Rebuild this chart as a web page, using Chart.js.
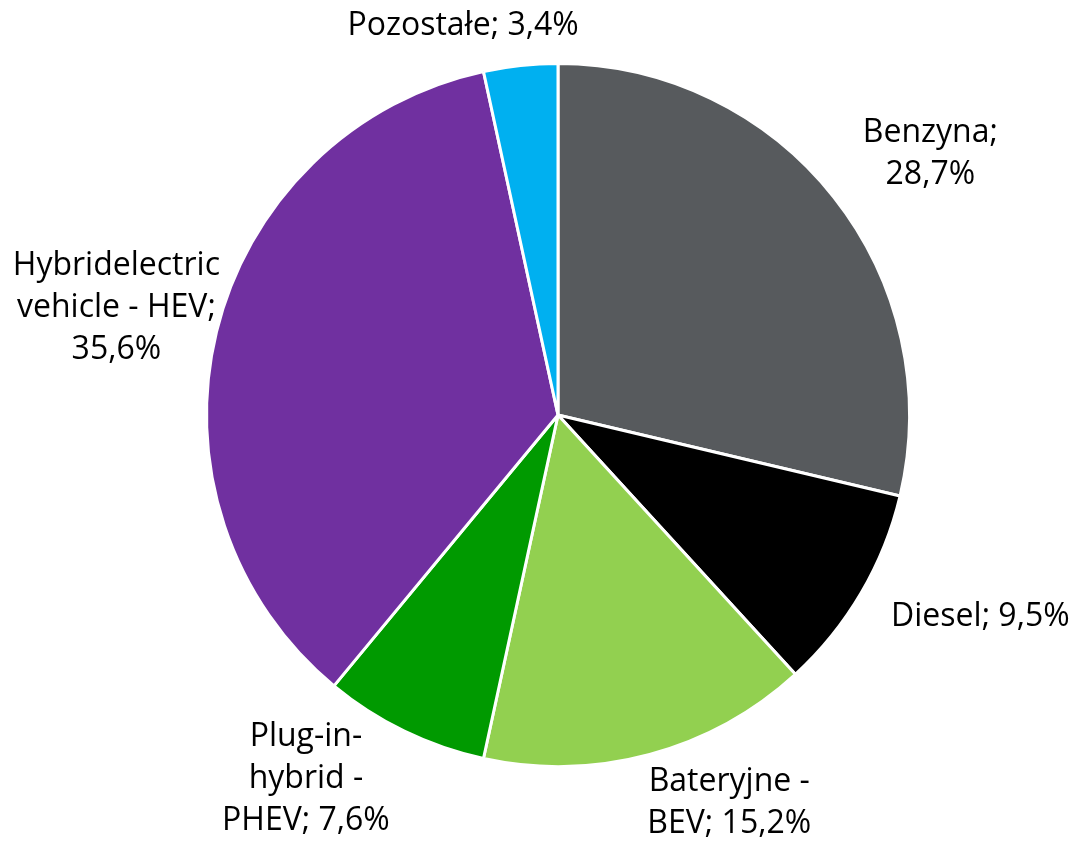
<!DOCTYPE html>
<html lang="pl">
<head>
<meta charset="UTF-8">
<title>Struktura napędów</title>
<script src="https://cdn.jsdelivr.net/npm/chart.js"></script>
<style>
  body { margin: 0; background: #fff; }
</style>
</head>
<body>
<canvas id="myChart" width="1076" height="842"></canvas>
<script>
// dane (%)
const categories = ['Benzyna', 'Diesel', 'Bateryjne - BEV', 'Plug-in-hybrid - PHEV', 'Hybridelectric vehicle - HEV', 'Pozostałe'];
const shares = [28.7, 9.5, 15.2, 7.6, 35.6, 3.4];
const sliceColors = ['#575a5d', '#000000', '#92d050', '#009a00', '#7030a0', '#00b0f0'];
// etykiety z podziałem na wiersze
const labelLines = [
    ['Benzyna;', '28,7%'],
    ['Diesel; 9,5%'],
    ['Bateryjne -', 'BEV; 15,2%'],
    ['Plug-in-', 'hybrid -', 'PHEV; 7,6%'],
    ['Hybridelectric', 'vehicle - HEV;', '35,6%'],
    ['Pozostałe; 3,4%']
];
// korekty położenia etykiet (px)
const labelNudge = [[28, -5], [25, 3], [53, -11], [-53, -27], [20, -4], [-43, 1]];

const FONT = '32px "Open Sans"';
const LINE_H = 42;

const outsideLabels = {
    id: 'outsideLabels',
    afterDatasetsDraw(chart) {
        const ctx = chart.ctx;
        const meta = chart.getDatasetMeta(0);
        ctx.save();
        ctx.font = FONT;
        ctx.fillStyle = '#000';
        ctx.textAlign = 'center';
        ctx.textBaseline = 'middle';
        meta.data.forEach((arc, i) => {
            const p = arc.getProps(['x', 'y', 'startAngle', 'endAngle', 'outerRadius'], true);
            const mid = (p.startAngle + p.endAngle) / 2;
            const dx = Math.cos(mid), dy = Math.sin(mid);
            const lines = labelLines[i];
            const w = Math.max(...lines.map(l => ctx.measureText(l).width));
            const h = lines.length * LINE_H;
            const r = p.outerRadius + 20;
            const cx = p.x + dx * r + dx * w / 2 + labelNudge[i][0];
            const cy = p.y + dy * r + dy * h / 2 + labelNudge[i][1];
            lines.forEach((l, k) => {
                ctx.fillText(l, cx, cy - h / 2 + LINE_H * (k + 0.5));
            });
        });
        ctx.restore();
    }
};

const ctx = document.getElementById('myChart').getContext('2d');
const myChart = new Chart(ctx, {
    type: 'pie',
    data: {
        labels: categories,
        datasets: [{
            data: shares,
            backgroundColor: sliceColors,
            borderColor: '#ffffff',
            borderWidth: 3
        }]
    },
    options: {
        responsive: false,
        animation: false,
        layout: {
            padding: { left: 205, right: 165, top: 62, bottom: 74 }
        },
        plugins: {
            legend: { display: false },
            tooltip: { enabled: false }
        }
    },
    plugins: [outsideLabels]
});
</script>
</body>
</html>
